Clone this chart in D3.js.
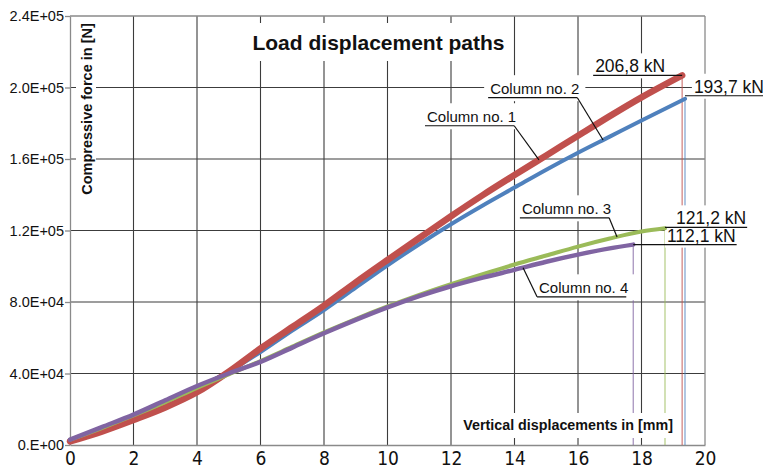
<!DOCTYPE html>
<html>
<head>
<meta charset="utf-8">
<script src="https://cdn.jsdelivr.net/npm/d3@7"></script>
<style>
  body { margin: 0; background: #fff; }
</style>
</head>
<body>
<div id="chart"></div>
<script>
// axis ticks
const xTicks = [0, 2, 4, 6, 8, 10, 12, 14, 16, 18, 20];
const yTicks = [0, 40000, 80000, 120000, 160000, 200000, 240000];
const yTickLabels = ["0.E+00", "4.0E+04", "8.0E+04", "1.2E+05", "1.6E+05", "2.0E+05", "2.4E+05"];

// displacement [mm] / force [N]
const col1X = [0, 1, 2, 3, 4, 5, 6, 7, 8, 9, 10, 11, 12, 13, 14, 15, 16, 17, 18, 19.28];
const col1Y = [2000, 7500, 14000, 21000, 29500, 41000, 54000, 66000, 78000, 91000, 103500, 115800, 128000, 139800, 151000, 162000, 173000, 184000, 194500, 206800];
const col2X = [0, 1, 2, 3, 4, 5, 6, 7, 8, 9, 10, 11, 12, 13, 14, 15, 16, 17, 18, 19.37];
const col2Y = [1500, 9000, 16500, 24000, 32000, 41000, 52000, 64000, 75500, 88000, 100500, 112300, 123500, 134000, 144000, 154000, 163500, 172500, 181500, 193700];
const col3X = [0, 1, 2, 3, 4, 5, 6, 7, 8, 9, 10, 11, 12, 13, 14, 15, 16, 17, 18, 18.74];
const col3Y = [3000, 9500, 16500, 24000, 32000, 39500, 47000, 55000, 63000, 70500, 77500, 84000, 90000, 95600, 101000, 106000, 111000, 115500, 119400, 121200];
const col4X = [0, 1, 2, 3, 4, 5, 6, 7, 8, 9, 10, 11, 12, 13, 14, 15, 16, 17, 17.74];
const col4Y = [3000, 10000, 17000, 25000, 33000, 40000, 46500, 54500, 62500, 70000, 77000, 83300, 88800, 93600, 98000, 102500, 106500, 110000, 112100];

const columnNames = ["Column no. 1", "Column no. 2", "Column no. 3", "Column no. 4"];
const peakLabels = ["206,8 kN", "193,7 kN", "121,2 kN", "112,1 kN"];

const W = 763, H = 468;

const series = [
  { name: columnNames[0], xs: col1X, ys: col1Y, color: "#c0504d", width: 6.5 },
  { name: columnNames[1], xs: col2X, ys: col2Y, color: "#4f81bd", width: 4 },
  { name: columnNames[2], xs: col3X, ys: col3Y, color: "#9bbb59", width: 4 },
  { name: columnNames[3], xs: col4X, ys: col4Y, color: "#8064a2", width: 4.5 }
].map(s => ({ ...s, points: s.xs.map((v, i) => ({ x: v, y: s.ys[i] })) }));

// where the callouts sit (data units)
const columnCallouts = [
  { s: 0, tx: 11.18, ty: 178600, px: 14.77, side: "right" },
  { s: 1, tx: 13.17, ty: 194300, px: 16.79, side: "right" },
  { s: 2, tx: 14.17, ty: 127100, px: 17.23, side: "right" },
  { s: 3, tx: 14.71, ty: 82900, px: 14.27, side: "left" }
];
const peakCallouts = [
  { s: 0, tx: 16.54, side: "left", dy: 0 },
  { s: 1, tx: 19.65, side: "right", dy: -3 },
  { s: 2, tx: 19.09, side: "right", dy: -1 },
  { s: 3, tx: 18.80, side: "right", dy: 0 }
];

const svg = d3.select("#chart").append("svg")
    .attr("width", W)
    .attr("height", H)
    .style("background", "#fff");

const x = d3.scaleLinear().domain([0, 20]).range([70, 705]);
const y = d3.scaleLinear().domain([0, 240000]).range([445, 16]);

const gGrid = svg.append("g");
const gDrop = svg.append("g");
const gBox = svg.append("g");
const gLines = svg.append("g");
const gText = svg.append("g");

// grid
gGrid.selectAll(".vg")
  .data(xTicks.filter(d => d > 0 && d < 20))
  .join("line")
    .attr("x1", d => x(d)).attr("x2", d => x(d))
    .attr("y1", y(0)).attr("y2", y(240000))
    .attr("stroke", "#3c3c3c")
    .attr("stroke-width", 1.1);

gGrid.selectAll(".hg")
  .data(yTicks.filter(d => d > 0 && d < 240000))
  .join("line")
    .attr("x1", x(0)).attr("x2", x(20))
    .attr("y1", d => y(d)).attr("y2", d => y(d))
    .attr("stroke", "#3c3c3c")
    .attr("stroke-width", 1.1);

// frame top / right
gGrid.append("line")
    .attr("x1", x(0)).attr("x2", x(20)).attr("y1", y(240000)).attr("y2", y(240000))
    .attr("stroke", "#8a8a8a").attr("stroke-width", 1.3);
gGrid.append("line")
    .attr("x1", x(20)).attr("x2", x(20)).attr("y1", y(240000)).attr("y2", y(0))
    .attr("stroke", "#8a8a8a").attr("stroke-width", 1.3);

// axes
const yAxis = svg.insert("g", () => gDrop.node())
    .attr("transform", `translate(${x(0)},0)`)
    .call(d3.axisLeft(y).tickValues(yTicks).tickFormat((d, i) => yTickLabels[i]).tickSize(5).tickSizeOuter(0).tickPadding(1));
yAxis.select(".domain").attr("stroke", "#8a8a8a").attr("stroke-width", 1.3);
yAxis.selectAll(".tick line").attr("stroke", "#8a8a8a").attr("stroke-width", 1.3);
yAxis.selectAll(".tick text")
    .attr("font-family", "'Liberation Sans', Arial, sans-serif")
    .attr("font-size", 14.5)
    .attr("fill", "#111");

const xAxis = svg.insert("g", () => gDrop.node())
    .attr("transform", `translate(0,${y(0)})`)
    .call(d3.axisBottom(x).tickValues(xTicks).tickSize(0).tickSizeOuter(0));
xAxis.select(".domain").attr("stroke", "#8a8a8a").attr("stroke-width", 1.3);
xAxis.selectAll(".tick text")
    .attr("y", 20)
    .attr("dy", 0)
    .attr("font-family", "'Liberation Sans Narrow', 'DejaVu Sans Condensed', sans-serif")
    .attr("font-size", 19)
    .attr("fill", "#111");

// white box behind a text node
function boxFor(node, padL, padR, padT, padB) {
  const b = node.getBBox();
  gBox.append("rect")
      .attr("x", b.x - padL)
      .attr("y", b.y - padT)
      .attr("width", b.width + padL + padR)
      .attr("height", b.height + padT + padB)
      .attr("fill", "#fff");
}

// titles
const title = gText.append("text")
    .attr("x", 378.5).attr("y", 50)
    .attr("text-anchor", "middle")
    .attr("font-family", "'Liberation Sans', Arial, sans-serif")
    .attr("font-weight", "bold")
    .attr("font-size", 21)
    .attr("fill", "#111")
    .text("Load displacement paths");
boxFor(title.node(), 13, 8, 8, 7);

const xTitle = gText.append("text")
    .attr("x", 673).attr("y", 430)
    .attr("text-anchor", "end")
    .attr("font-family", "'Liberation Sans', Arial, sans-serif")
    .attr("font-weight", "bold")
    .attr("font-size", 14.3)
    .attr("fill", "#111")
    .text("Vertical displacements in [mm]");
boxFor(xTitle.node(), 6, 5, 4, 5);

const yTitle = gText.append("text")
    .attr("transform", "translate(92,109) rotate(-90)")
    .attr("text-anchor", "middle")
    .attr("font-family", "'Liberation Sans', Arial, sans-serif")
    .attr("font-weight", "bold")
    .attr("font-size", 14.5)
    .attr("fill", "#111")
    .text("Compressive force in [N]");
{
  const b = yTitle.node().getBBox();
  gBox.append("rect")
      .attr("transform", "translate(92,109) rotate(-90)")
      .attr("x", b.x - 4).attr("y", b.y - 3)
      .attr("width", b.width + 8).attr("height", b.height + 4)
      .attr("fill", "#fff");
}

// drop lines after failure
gDrop.selectAll("line")
  .data(series)
  .join("line")
    .attr("x1", d => x(d.points[d.points.length - 1].x))
    .attr("x2", d => x(d.points[d.points.length - 1].x))
    .attr("y1", d => y(d.points[d.points.length - 1].y))
    .attr("y2", y(0))
    .attr("stroke", d => d.color)
    .attr("stroke-opacity", 0.75)
    .attr("stroke-width", 1.2);

// curves
const line = d3.line()
    .x(d => x(d.x))
    .y(d => y(d.y))
    .curve(d3.curveMonotoneX);

const drawOrder = [1, 0, 2, 3];
gLines.selectAll("path")
  .data(drawOrder.map(i => series[i]))
  .join("path")
    .attr("fill", "none")
    .attr("stroke", d => d.color)
    .attr("stroke-width", d => d.width)
    .attr("stroke-linejoin", "round")
    .attr("stroke-linecap", "round")
    .attr("d", d => line(d.points));

function valueAt(s, v) {
  const xs = s.xs, ys = s.ys;
  const i = Math.max(1, Math.min(xs.length - 1, d3.bisectRight(xs, v)));
  const t = (v - xs[i - 1]) / (xs[i] - xs[i - 1]);
  return ys[i - 1] + t * (ys[i] - ys[i - 1]);
}

// column callouts
columnCallouts.forEach(c => {
  const s = series[c.s];
  const ux = x(c.tx), uy = y(c.ty);
  const t = gText.append("text")
      .attr("x", ux + 2).attr("y", uy - 3.5)
      .attr("font-family", "'Liberation Sans', Arial, sans-serif")
      .attr("font-size", 15)
      .attr("fill", "#111")
      .text(s.name);
  const w = t.node().getComputedTextLength();
  boxFor(t.node(), 6, 6, 5, 4);
  const u0 = ux, u1 = ux + w;
  gText.append("line")
      .attr("x1", u0).attr("x2", u1).attr("y1", uy).attr("y2", uy)
      .attr("stroke", "#111").attr("stroke-width", 1.2);
  const sx = c.side === "right" ? u1 : u0;
  gText.append("line")
      .attr("x1", sx).attr("y1", uy)
      .attr("x2", x(c.px)).attr("y2", y(valueAt(s, c.px)))
      .attr("stroke", "#111").attr("stroke-width", 1.2);
});

// peak callouts
peakCallouts.forEach((c, i) => {
  const s = series[c.s];
  const p = s.points[s.points.length - 1];
  const px = x(p.x), py = y(p.y) + c.dy;
  const t = gText.append("text")
      .attr("x", x(c.tx)).attr("y", py - 3)
      .attr("font-family", "'Liberation Sans', Arial, sans-serif")
      .attr("font-size", 17.5)
      .attr("fill", "#111")
      .text(peakLabels[i]);
  const w = t.node().getComputedTextLength();
  boxFor(t.node(), 2, 2, 3, 2);
  const a = c.side === "left" ? x(c.tx) - 2 : px;
  const b = c.side === "left" ? px : x(c.tx) + w + 1;
  gText.append("line")
      .attr("x1", a).attr("x2", b).attr("y1", py).attr("y2", py)
      .attr("stroke", "#111").attr("stroke-width", 1.2);
});
</script>
</body>
</html>
